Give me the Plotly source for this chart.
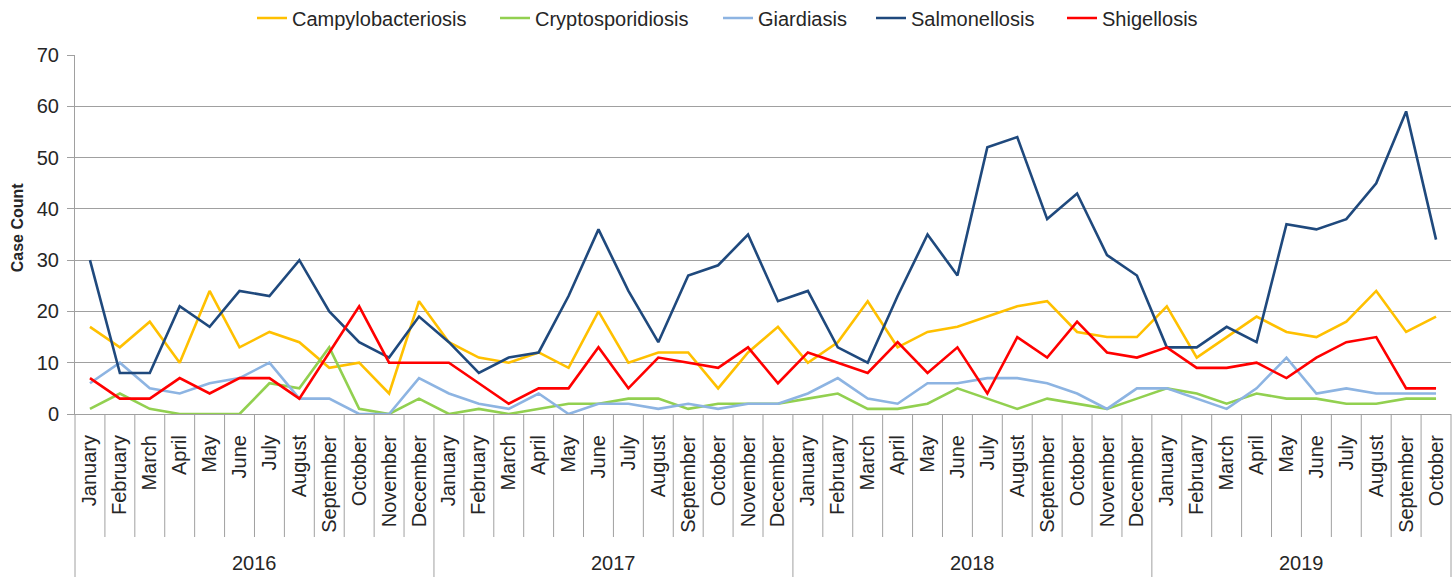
import plotly.graph_objects as go

years = ["2016"] * 12 + ["2017"] * 12 + ["2018"] * 12 + ["2019"] * 10
month_names = ["January", "February", "March", "April", "May", "June", "July",
               "August", "September", "October", "November", "December"]
months = month_names * 3 + month_names[:10]

campylobacteriosis = [17, 13, 18, 10, 24, 13, 16, 14, 9, 10, 4, 22,
                      14, 11, 10, 12, 9, 20, 10, 12, 12, 5, 12, 17,
                      10, 14, 22, 13, 16, 17, 19, 21, 22, 16, 15, 15,
                      21, 11, 15, 19, 16, 15, 18, 24, 16, 19]
cryptosporidiosis = [1, 4, 1, 0, 0, 0, 6, 5, 13, 1, 0, 3,
                     0, 1, 0, 1, 2, 2, 3, 3, 1, 2, 2, 2,
                     3, 4, 1, 1, 2, 5, 3, 1, 3, 2, 1, 3,
                     5, 4, 2, 4, 3, 3, 2, 2, 3, 3]
giardiasis = [6, 10, 5, 4, 6, 7, 10, 3, 3, 0, 0, 7,
              4, 2, 1, 4, 0, 2, 2, 1, 2, 1, 2, 2,
              4, 7, 3, 2, 6, 6, 7, 7, 6, 4, 1, 5,
              5, 3, 1, 5, 11, 4, 5, 4, 4, 4]
salmonellosis = [30, 8, 8, 21, 17, 24, 23, 30, 20, 14, 11, 19,
                 14, 8, 11, 12, 23, 36, 24, 14, 27, 29, 35, 22,
                 24, 13, 10, 23, 35, 27, 52, 54, 38, 43, 31, 27,
                 13, 13, 17, 14, 37, 36, 38, 45, 59, 34]
shigellosis = [7, 3, 3, 7, 4, 7, 7, 3, 12, 21, 10, 10,
               10, 6, 2, 5, 5, 13, 5, 11, 10, 9, 13, 6,
               12, 10, 8, 14, 8, 13, 4, 15, 11, 18, 12, 11,
               13, 9, 9, 10, 7, 11, 14, 15, 5, 5]

series_names = ["Campylobacteriosis", "Cryptosporidiosis", "Giardiasis",
                "Salmonellosis", "Shigellosis"]
series_values = [campylobacteriosis, cryptosporidiosis, giardiasis,
                 salmonellosis, shigellosis]
colors = ["#FFC000", "#92D050", "#8DB4E2", "#1F497D", "#FF0000"]
legend_line_px = [258, 501, 724, 877, 1068]

W, H = 1456, 578
ML, MR, MT, MB = 75, 5, 55, 164
PW = W - ML - MR
PH = H - MT - MB

FONT = "Liberation Sans, Arial, sans-serif"
TXT = "#262626"
GRID = "#a0a0a0"

cats = [f"{m} {y}" for m, y in zip(months, years)]
n = len(cats)

fig = go.Figure()
legend_keys = ["legend", "legend2", "legend3", "legend4", "legend5"]
for name, vals, col, lk in zip(series_names, series_values, colors, legend_keys):
    fig.add_trace(go.Scatter(x=cats, y=vals, name=name, mode="lines",
                             line=dict(color=col, width=2.6), legend=lk))

legend_layout = {}
for lk, px in zip(legend_keys, legend_line_px):
    legend_layout[lk] = dict(
        x=(px - 6 - ML) / PW, xanchor="left",
        y=(PH + MT - 18) / PH, yanchor="middle",
        orientation="h", bgcolor="rgba(0,0,0,0)",
        font=dict(family=FONT, size=20, color=TXT),
    )

shapes = []
year_bounds = [0]
for i in range(1, n):
    if years[i] != years[i - 1]:
        year_bounds.append(i)
year_bounds.append(n)
long_y = -(H - 1 - (MT + PH)) / PH
short_y = -(537 - (MT + PH)) / PH
for k in range(0, n + 1):
    yb = long_y if k in year_bounds else short_y
    shapes.append(dict(type="line", xref="paper", yref="paper",
                       x0=k / n, x1=k / n, y0=0, y1=yb,
                       line=dict(color=GRID, width=1)))

annotations = []
for a, b in zip(year_bounds[:-1], year_bounds[1:]):
    annotations.append(dict(text=years[a], xref="paper", yref="paper",
                            x=(a + b) / 2 / n, y=-(563 - (MT + PH)) / PH,
                            xanchor="center", yanchor="middle", showarrow=False,
                            font=dict(family=FONT, size=20, color=TXT)))
annotations.append(dict(text="<b>Case Count</b>", xref="paper", yref="paper",
                        x=-(ML - 17) / PW, y=0.52, textangle=-90,
                        xanchor="center", yanchor="middle", showarrow=False,
                        font=dict(family=FONT, size=16, color=TXT)))

fig.update_layout(
    width=W, height=H,
    margin=dict(l=ML, r=MR, t=MT, b=MB, autoexpand=False),
    paper_bgcolor="white", plot_bgcolor="white",
    font=dict(family=FONT, color=TXT),
    showlegend=True,
    shapes=shapes,
    annotations=annotations,
    xaxis=dict(type="category", tickmode="array", tickvals=cats, ticktext=months,
               tickangle=-90, ticks="", showgrid=False, showline=True,
               linecolor=GRID, linewidth=1, zeroline=False, automargin=False,
               tickfont=dict(family=FONT, size=20, color=TXT),
               range=[-0.5, n - 0.5], ticklabelstandoff=12),
    yaxis=dict(range=[0, 70], dtick=10, showgrid=True, gridcolor=GRID, gridwidth=1,
               showline=True, linecolor=GRID, linewidth=1, ticks="outside",
               ticklen=7, tickcolor=GRID, zeroline=False, automargin=False,
               tickfont=dict(family=FONT, size=20, color=TXT), ticklabelstandoff=4),
    **legend_layout,
)

fig.write_html(
    "out.html",
    config={"displayModeBar": False},
    post_script="document.body.style.margin='0px';document.body.style.overflow='hidden';",
)
